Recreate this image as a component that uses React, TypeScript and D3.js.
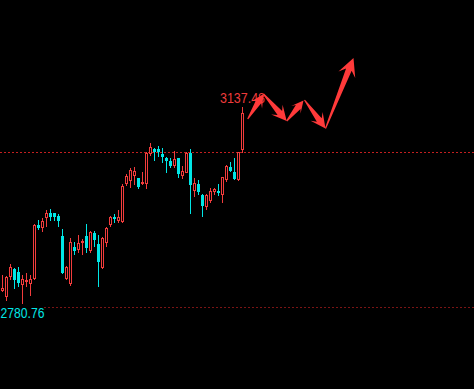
import React from "react";
import * as d3 from "d3";

const W = 474;
const H = 389;

// candle index 0..60
const opens = [2804.89,2794.00,2829.19,2844.24,2839.34,2815.22,2821.21,2817.58,2825.56,2924.03,2918.05,2936.18,2946.34,2945.25,2940.35,2904.08,2825.56,2817.04,2884.68,2878.69,2891.93,2904.08,2876.88,2908.98,2889.58,2845.51,2890.85,2924.03,2939.08,2931.83,2928.93,2997.84,3004.37,3013.44,3008.72,2998.93,2997.84,3052.79,3061.31,3061.86,3052.79,3046.08,3040.10,3031.57,3044.99,3012.89,3018.88,3055.15,2986.24,2998.39,2978.44,2956.13,2968.10,2983.33,2986.24,2978.44,3005.64,3029.76,3020.69,3005.64,3060.04];
const highs = [2833.36,2831.54,2853.31,2845.51,2847.32,2833.36,2836.44,2833.36,2925.85,2933.10,2936.18,2951.23,2952.50,2946.34,2943.98,2916.23,2849.68,2899.91,2893.75,2905.90,2898.10,2925.85,2913.15,2913.15,2905.90,2902.81,2919.86,2940.35,2943.98,2951.23,2997.84,3015.98,3026.86,3029.76,3009.81,3020.69,3055.87,3072.20,3063.13,3067.30,3063.13,3047.35,3044.99,3058.23,3046.08,3031.03,3056.96,3061.31,3008.72,3005.64,2980.25,2980.25,2990.59,2990.59,2998.39,3011.62,3032.84,3038.83,3044.99,3056.96,3137.48];
const lows = [2803.07,2786.21,2824.29,2808.51,2812.14,2780.76,2811.05,2795.27,2824.29,2914.96,2911.88,2920.95,2931.83,2930.74,2920.95,2835.17,2824.29,2813.95,2869.63,2873.80,2869.63,2873.80,2873.80,2883.59,2811.05,2843.69,2883.59,2919.86,2927.12,2927.12,2927.12,2995.30,2990.59,2996.57,2989.32,2996.57,2989.32,3049.71,3040.10,3047.89,3035.93,3018.88,3027.95,3026.86,3009.81,3007.45,3017.79,2943.98,2974.27,2978.44,2938.00,2951.23,2963.39,2978.44,2976.62,2964.47,3002.56,3020.69,3005.64,3003.83,3055.15];
const closes = [2810.33,2829.19,2847.87,2824.29,2818.30,2826.10,2824.29,2826.10,2924.03,2918.05,2931.83,2945.25,2939.08,2939.08,2931.83,2836.44,2847.32,2893.75,2876.88,2891.93,2895.56,2882.87,2910.79,2896.83,2857.48,2901.00,2918.05,2938.00,2934.91,2939.08,2995.30,3013.44,3023.77,3021.96,2993.49,3002.56,3054.06,3064.94,3056.96,3056.96,3046.81,3040.10,3031.03,3043.72,3015.98,3021.96,3055.15,2996.57,3000.74,2984.42,2958.49,2978.44,2986.24,2988.77,2982.61,3010.54,3031.03,3022.51,3007.45,3055.87,3126.60];

const refLevels = [3055.87, 2774.78];
const refColors = ["#c41f1f", "#7a1414"];

// hand-drawn arrows: from (index, price) to (index, price), head length
const arrowFromIdx = [61.3, 65.25, 71.05, 75.5, 80.75];
const arrowFromPx = [3116.26, 3161.6, 3112.64, 3150.72, 3099.03];
const arrowToIdx = [65.25, 71.05, 75.25, 80.75, 87.75];
const arrowToPx = [3161.6, 3112.64, 3149.81, 3099.03, 3226.89];
const arrowHead = [13, 15, 12, 15, 18];

const UP = "#f23c3c";
const DOWN = "#00e6e6";
const ARROW = "#ff3a3a";

export default function App() {
  const n = opens.length;
  const x = d3.scaleLinear().domain([0, n - 1]).range([2.5, 242.5]);
  const y = d3.scaleLinear().domain([2780.76, 3137.48]).range([304, 107.3]);
  const py = (v: number) => Math.round(y(v));

  const maxI = d3.maxIndex(highs);
  const minI = d3.minIndex(lows);

  const arrowPath = (i: number) => {
    const x0 = x(arrowFromIdx[i]), y0 = y(arrowFromPx[i]);
    const x1 = x(arrowToIdx[i]), y1 = y(arrowToPx[i]);
    const dx = x1 - x0, dy = y1 - y0;
    const L = Math.hypot(dx, dy);
    const ux = dx / L, uy = dy / L;
    const nx = -uy, ny = ux;
    const h = arrowHead[i];
    const hw = h * 0.5;
    const w0 = 0.6, w1 = 3.0;
    const pt = (d: number, w: number) => [x0 + ux * d + nx * w, y0 + uy * d + ny * w];
    const pts = [
      pt(0, w0),
      pt(L - h * 0.7, w1),
      pt(L - h, hw),
      [x1, y1],
      pt(L - h, -hw),
      pt(L - h * 0.7, -w1),
      pt(0, -w0),
    ];
    return d3.line()(pts as [number, number][]) + "Z";
  };

  return (
    <svg
      width={W}
      height={H}
      style={{ position: "absolute", left: 0, top: 0, background: "#000" }}
    >
      <rect x={0} y={0} width={W} height={H} fill="#000" />
      {refLevels.map((lv, k) => (
        <line
          key={"ref" + k}
          x1={0}
          x2={W}
          y1={py(lv) + 0.5}
          y2={py(lv) + 0.5}
          stroke={refColors[k]}
          strokeWidth={1}
          strokeDasharray="2,2"
        />
      ))}
      {opens.map((o, i) => {
        const c = closes[i];
        const cx = x(i);
        const yh = py(highs[i]);
        const yl = py(lows[i]);
        const yt = py(Math.max(o, c));
        const yb = py(Math.min(o, c));
        if (c >= o) {
          return (
            <g key={i}>
              <line x1={cx} x2={cx} y1={yh} y2={yt} stroke={UP} />
              <line x1={cx} x2={cx} y1={yb} y2={yl} stroke={UP} />
              <rect
                x={cx - 1}
                y={yt + 0.5}
                width={2}
                height={Math.max(yb - yt - 1, 0)}
                fill="none"
                stroke={UP}
              />
            </g>
          );
        }
        return (
          <g key={i}>
            <line x1={cx} x2={cx} y1={yh} y2={yl} stroke={DOWN} />
            <rect x={cx - 1.5} y={yt} width={3} height={Math.max(yb - yt, 1)} fill={DOWN} />
          </g>
        );
      })}
      <rect x={0} y={py(lows[minI]) + 2} width={44} height={13} fill="#000" />
      <text
        x={x(minI)}
        y={py(lows[minI]) + 14}
        textAnchor="middle"
        fill="#00e6e6"
        fontFamily="Liberation Sans, Arial, sans-serif"
        fontSize={14}
        textLength={44}
        lengthAdjust="spacingAndGlyphs"
      >
        {lows[minI].toFixed(2)}
      </text>
      <text
        x={x(maxI)}
        y={py(highs[maxI]) - 4}
        textAnchor="middle"
        fill="#ee3b3b"
        fontFamily="Liberation Sans, Arial, sans-serif"
        fontSize={14}
        textLength={45}
        lengthAdjust="spacingAndGlyphs"
      >
        {highs[maxI].toFixed(2)}
      </text>
      {arrowFromIdx.map((_, i) => (
        <path key={"a" + i} d={arrowPath(i)} fill={ARROW} />
      ))}
    </svg>
  );
}
